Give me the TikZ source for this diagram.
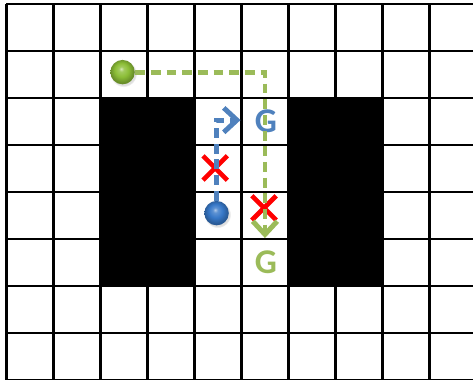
\documentclass[tikz,border=0pt]{standalone}
\usepackage{fontspec}
\setmainfont{Carlito}
\definecolor{officeBlue}{RGB}{79, 129, 189}
\definecolor{officeGreen}{RGB}{155, 187, 89}
\definecolor{markRed}{RGB}{255, 0, 0}
\definecolor{greenBall}{RGB}{140, 190, 55}
\definecolor{blueBall}{RGB}{55, 120, 200}
\usetikzlibrary{positioning, arrows.meta, shapes.misc, shadows}

\pgfdeclareradialshading{greenshade}{\pgfpoint{-3bp}{7bp}}{%
  color(0bp)=(greenBall!35!white); color(5bp)=(greenBall!80!white);
  color(14bp)=(greenBall); color(24bp)=(greenBall!75!black);
  color(40bp)=(greenBall!70!black)}
\pgfdeclareradialshading{blueshade}{\pgfpoint{-3bp}{7bp}}{%
  color(0bp)=(blueBall!40!white); color(5bp)=(blueBall!80!white);
  color(14bp)=(blueBall); color(24bp)=(blueBall!75!black);
  color(40bp)=(blueBall!70!black)}

\begin{document}
\begin{tikzpicture}[
    gridline/.style={line width=1.3pt},
    wall/.style={fill=black},
    agent/.style={circle, minimum size=0.52cm, inner sep=0pt,
                  circular drop shadow={shadow xshift=0.02cm,
                  shadow yshift=-0.03cm, opacity=0.25}},
    goal/.style={font=\fontsize{21}{21}\selectfont\bfseries, inner sep=0pt},
    blocked/.style={cross out, draw=markRed, line width=2.8pt,
                    minimum size=0.42cm, inner sep=0pt},
    route/.style={line width=3pt, dash pattern=on 6pt off 3.5pt,
                  -{Straight Barb[length=2.8mm, width=5.2mm]}},
  ]
    \useasboundingbox (-0.138,-7.98) rectangle (9.926,0.085);

    % map
    \draw[gridline] (0,-8) grid (10,0);
    \fill[wall] (2,-6) rectangle (4,-2);
    \fill[wall] (6,-6) rectangle (8,-2);

    % agents and goals
    \node[agent, shading=greenshade] (greenAgent) at (2.47,-1.45) {};
    \node[agent, shading=blueshade] (blueAgent) at (4.47,-4.45) {};
    \node[goal, officeBlue] (blueGoal) at (5.52,-2.5) {G};
    \node[goal, officeGreen] (greenGoal) at (5.52,-5.5) {G};

    \coordinate (blueTip) at (4.98,-2.47);
    \coordinate (greenTip) at (5.5,-4.98);

    % conflicts
    \node[blocked] (blockA) at (4.44,-3.49) {};
    \node[blocked] (blockB) at (5.48,-4.34) {};

    % planned routes
    \draw[route, officeBlue] (blueAgent.north) |- (blueTip);
    \draw[route, officeGreen] (greenAgent.east) -| (greenTip);
  \end{tikzpicture}
\end{document}
